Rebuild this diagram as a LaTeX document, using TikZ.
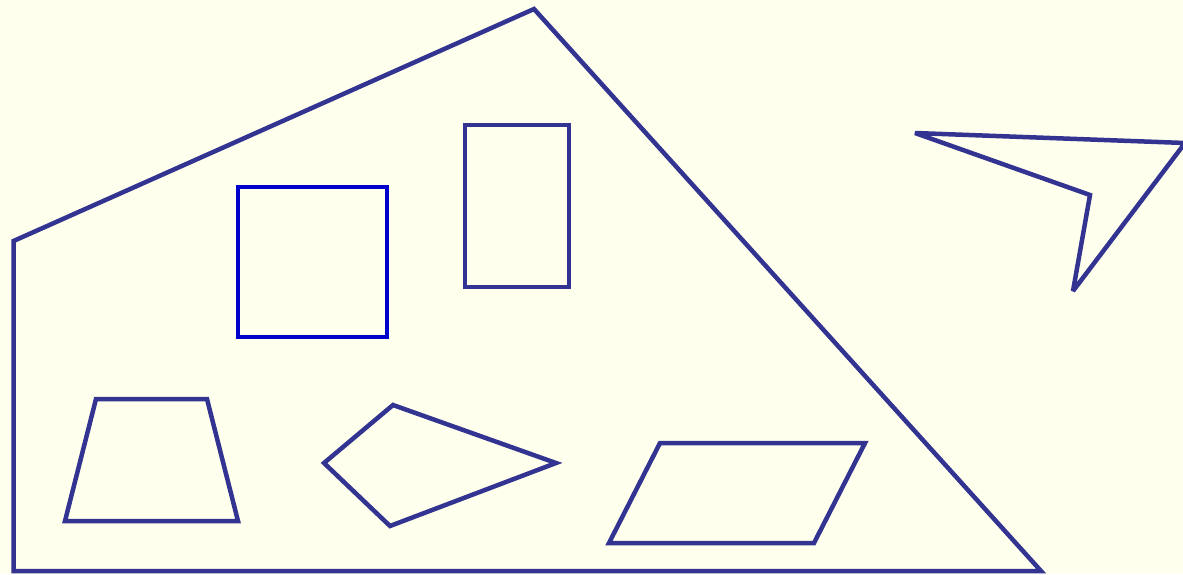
\documentclass[tikz,border=0pt]{standalone}
\definecolor{bg}{RGB}{255,255,238}
\definecolor{navy}{RGB}{51,51,145}
\definecolor{sq}{RGB}{0,0,204}
\begin{document}
\begin{tikzpicture}[x=1pt,y=-1pt,
  poly/.style={draw=navy,line width=4.5pt,line join=miter,miter limit=4},
  sqpoly/.style={draw=sq,line width=4.5pt,line join=miter,miter limit=4}]
\fill[bg] (0,0) rectangle (1183,574);
\clip (0,0) rectangle (1183,574);
\useasboundingbox (0,0) rectangle (1183,574);
% big pentagon
\draw[poly] (13.5,241) -- (534,9) -- (1041,571) -- (13.5,571) -- cycle;
% square
\draw[sqpoly] (238,187) rectangle (387,337);
% rectangle
\draw[poly] (465,125) rectangle (569,287);
% trapezoid
\draw[poly] (96,399) -- (207,399) -- (238,521) -- (65,521) -- cycle;
% kite
\draw[poly] (393,405) -- (556,463) -- (390,526) -- (324,463) -- cycle;
% parallelogram
\draw[poly] (660,443) -- (865,443) -- (814,543) -- (609,543) -- cycle;
% arrowhead shape
\draw[poly] (915,133) -- (1185,143) -- (1073,291) -- (1090,195) -- cycle;
\end{tikzpicture}
\end{document}
